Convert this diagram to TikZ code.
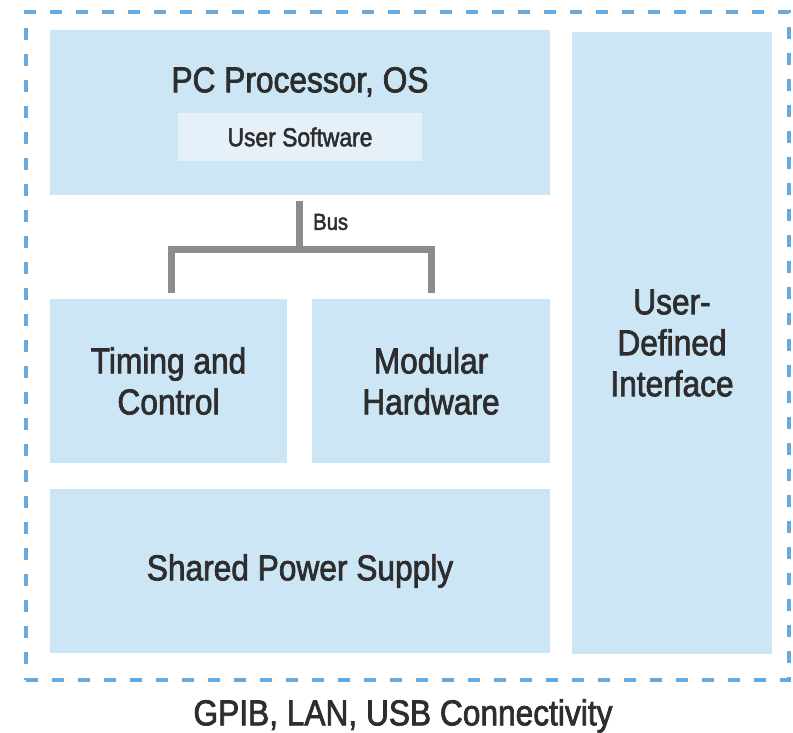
\documentclass[tikz,border=0pt]{standalone}
\usepackage{fontspec}
\setmainfont[FakeStretch=0.88,FakeBold=2]{Liberation Sans}
\definecolor{boxblue}{RGB}{205,230,246}
\definecolor{softblue}{RGB}{230,240,248}
\definecolor{dashblue}{RGB}{104,170,222}
\definecolor{busgray}{RGB}{140,140,140}
\definecolor{ink}{RGB}{45,45,45}
\tikzset{
  block/.style={fill=boxblue, draw=none, inner sep=0pt, text=ink, align=center,
    font=\fontsize{36}{41}\selectfont},
  subblock/.style={fill=softblue, draw=none, inner sep=0pt, text=ink,
    font=\fontsize{26}{30}\selectfont},
  caption/.style={inner sep=0pt, text=ink, font=\fontsize{36}{41}\selectfont},
  frame/.style={draw=dashblue, line width=4pt, dash pattern=on 12pt off 14pt, inner sep=0pt},
  busline/.style={draw=busgray, line width=7pt},
  buslabel/.style={inner sep=0pt, text=ink, font=\fontsize{23}{26}\selectfont},
}
\begin{document}
\begin{tikzpicture}[x=1pt, y=-1pt]
  \useasboundingbox (0,0) rectangle (793,733);
  \fill[white] (0,0) rectangle (793,733);

  % outer dashed enclosure
  \node[frame, minimum width=763, minimum height=668] (frame) at (407.5,346) {};

  % PC block with the user software inset
  \node[block, minimum width=500, minimum height=165] (pc) at (300,112.5) {};
  \node[caption] (pctext) at (300,82) {PC Processor, OS};
  \node[subblock, minimum width=244, minimum height=48] (usersw) at (300,137) {User Software};

  % modules on the bus
  \node[block, minimum width=237, minimum height=164] (timing) at (168.5,381) {Timing and\\Control};
  \node[block, minimum width=238, minimum height=164] (modular) at (431,381) {Modular\\Hardware};
  \node[block, minimum width=500, minimum height=164] (power) at (300,571) {Shared Power Supply};
  \node[block, minimum width=200, minimum height=622] (iface) at (672,343) {User-\\Defined\\Interface};

  % bus tree
  \coordinate (bustop) at (299,201);
  \coordinate (busmid) at (299,249);
  \coordinate (busleft) at (171,293);
  \coordinate (busright) at (431,293);
  \draw[busline] (bustop) -- (busmid);
  \draw[busline, line join=miter] (busleft) |- (busmid) -| (busright);
  \node[buslabel, anchor=west] (bus) at (313,222) {Bus};

  % connectivity caption
  \node[caption] (conn) at (403,716) {GPIB, LAN, USB Connectivity};
\end{tikzpicture}
\end{document}
